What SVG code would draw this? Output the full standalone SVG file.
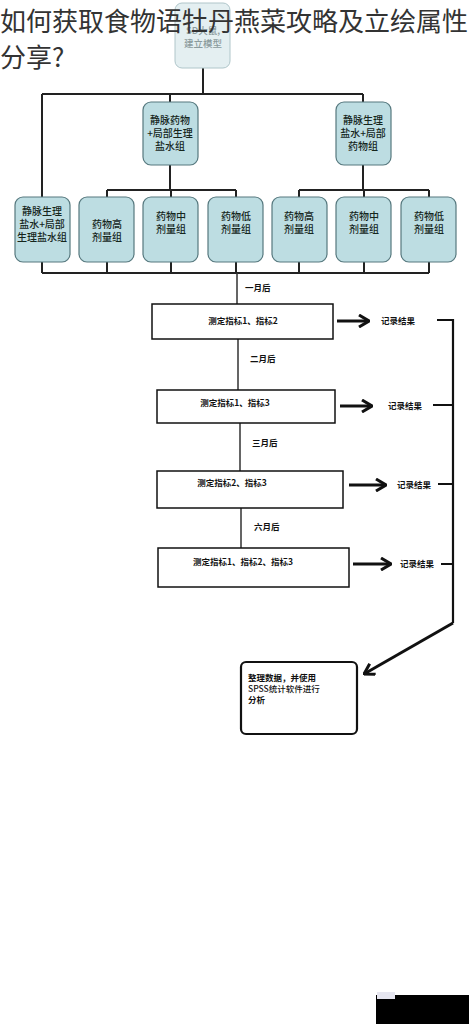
<svg xmlns="http://www.w3.org/2000/svg" width="469" height="1024" viewBox="0 0 469 1024">
<style>
.node{fill:#bddde2;stroke:#56787e;stroke-width:1.2}
.ntxt{font-family:"Noto Sans CJK SC",sans-serif;font-size:10px;fill:#15261c;text-anchor:middle;font-weight:500}
.box{fill:#fff;stroke:#111;stroke-width:1.5}
.btxt{font-family:"Noto Sans CJK SC",sans-serif;font-size:8.5px;fill:#111;font-weight:700}
.lbl{font-family:"Noto Sans CJK SC",sans-serif;font-size:8.5px;fill:#111;font-weight:700}
.ln{fill:none;stroke:#222;stroke-width:2}
.fl{fill:none;stroke:#333;stroke-width:1.5}
.arr{fill:none;stroke:#111;stroke-width:3;marker-end:url(#chev)}
.thick{fill:none;stroke:#111;stroke-width:2.2}
.title{font-family:"Noto Sans CJK SC",sans-serif;font-size:26px;fill:#333}
</style>
<defs>
<marker id="chev" viewBox="0 0 12 14" refX="11" refY="7" markerWidth="12" markerHeight="14" markerUnits="userSpaceOnUse" orient="auto">
<path d="M1,1 L11,7 L1,13" fill="none" stroke="#111" stroke-width="3"/>
</marker>
</defs>
<rect width="469" height="1024" fill="#fff"/>

<g id="connectors">
<path class="ln" d="M203,68 V94 M42,94 H363 M42,94 V197 M170,94 V102 M363,94 V102"/>
<path class="ln" d="M170,165 V190 M107,190 H236 M107,190 V197 M171,190 V197 M236,190 V197"/>
<path class="ln" d="M363,165 V190 M299,190 H429 M299,190 V197 M364,190 V197 M429,190 V197"/>
<path class="ln" d="M42,262 V273 M107,262 V273 M171,262 V273 M236,262 V273 M299,262 V273 M364,262 V273 M429,262 V273 M42,273 H429"/>
<path class="fl" d="M237,273 V304 M238,339 V390 M240,423 V471 M241,508 V548"/>
<path class="arr" d="M337,321 H369"/>
<path class="arr" d="M340,406 H372"/>
<path class="arr" d="M349,485 H386"/>
<path class="arr" d="M353,564 H391"/>
<path class="thick" d="M437,320 H453 M433,405 H453 M438,484 H453 M441,564 H453 M453,319 V623"/>
<path class="arr" d="M453,623 L364,674"/>
</g>

<g id="n-top">
<rect x="175" y="3" width="55" height="65" rx="7" fill="#e4eff1" stroke="#b0c6ca" stroke-width="1"/>
<text class="ntxt" x="203" y="34" style="fill:#8b9b9d;font-size:9.5px">SD大鼠,</text>
<text class="ntxt" x="203" y="47" style="fill:#8b9b9d;font-size:9.5px">建立模型</text>
</g>

<g id="n-mid1">
<rect class="node" x="143" y="102" width="55" height="63" rx="8"/>
<text class="ntxt" x="170" y="124">静脉药物</text>
<text class="ntxt" x="170" y="137">+局部生理</text>
<text class="ntxt" x="170" y="150">盐水组</text>
</g>
<g id="n-mid2">
<rect class="node" x="336" y="102" width="55" height="63" rx="8"/>
<text class="ntxt" x="363" y="124">静脉生理</text>
<text class="ntxt" x="363" y="137">盐水+局部</text>
<text class="ntxt" x="363" y="150">药物组</text>
</g>

<g id="n-b1">
<rect class="node" x="15" y="197" width="55" height="65" rx="8"/>
<text class="ntxt" x="42" y="215">静脉生理</text>
<text class="ntxt" x="42" y="228">盐水+局部</text>
<text class="ntxt" x="42" y="241">生理盐水组</text>
</g>
<g id="n-b2">
<rect class="node" x="79" y="197" width="55" height="65" rx="8"/>
<text class="ntxt" x="107" y="228">药物高</text>
<text class="ntxt" x="107" y="241">剂量组</text>
</g>
<g id="n-b3">
<rect class="node" x="143" y="197" width="55" height="65" rx="8"/>
<text class="ntxt" x="171" y="220">药物中</text>
<text class="ntxt" x="171" y="233">剂量组</text>
</g>
<g id="n-b4">
<rect class="node" x="208" y="197" width="55" height="65" rx="8"/>
<text class="ntxt" x="236" y="220">药物低</text>
<text class="ntxt" x="236" y="233">剂量组</text>
</g>
<g id="n-b5">
<rect class="node" x="272" y="197" width="55" height="65" rx="8"/>
<text class="ntxt" x="299" y="220">药物高</text>
<text class="ntxt" x="299" y="233">剂量组</text>
</g>
<g id="n-b6">
<rect class="node" x="336" y="197" width="55" height="65" rx="8"/>
<text class="ntxt" x="364" y="220">药物中</text>
<text class="ntxt" x="364" y="233">剂量组</text>
</g>
<g id="n-b7">
<rect class="node" x="401" y="197" width="55" height="65" rx="8"/>
<text class="ntxt" x="429" y="220">药物低</text>
<text class="ntxt" x="429" y="233">剂量组</text>
</g>

<g id="labels">
<text class="lbl" x="245" y="291">一月后</text>
<text class="lbl" x="250" y="362">二月后</text>
<text class="lbl" x="252" y="446">三月后</text>
<text class="lbl" x="254" y="530">六月后</text>
<text class="lbl" x="381" y="324">记录结果</text>
<text class="lbl" x="388" y="409">记录结果</text>
<text class="lbl" x="397" y="488">记录结果</text>
<text class="lbl" x="400" y="567">记录结果</text>
</g>

<g id="s1">
<rect class="box" x="152" y="304" width="181" height="35"/>
<text class="btxt" x="243" y="324" text-anchor="middle">测定指标1、指标2</text>
</g>
<g id="s2">
<rect class="box" x="157" y="390" width="178" height="33"/>
<text class="btxt" x="235" y="406" text-anchor="middle">测定指标1、指标3</text>
</g>
<g id="s3">
<rect class="box" x="157" y="471" width="186" height="37"/>
<text class="btxt" x="232" y="486" text-anchor="middle">测定指标2、指标3</text>
</g>
<g id="s4">
<rect class="box" x="158" y="548" width="191" height="39"/>
<text class="btxt" x="243" y="565" text-anchor="middle">测定指标1、指标2、指标3</text>
</g>

<g id="final">
<rect x="241" y="662" width="116" height="72" rx="5" fill="#fff" stroke="#111" stroke-width="2.2"/>
<text class="btxt" x="248" y="681">整理数据，并使用</text>
<text class="btxt" x="248" y="692" style="font-weight:500">SPSS统计软件进行</text>
<text class="btxt" x="248" y="703">分析</text>
</g>

<g id="title">
<text class="title" x="0" y="31">如何获取食物语牡丹燕菜攻略及立绘属性</text>
<text class="title" x="0" y="67">分享?</text>
</g>

<rect x="376" y="995" width="93" height="29" fill="#000"/>
<rect x="377" y="992" width="18" height="7" fill="#e6e6f0"/>
</svg>
